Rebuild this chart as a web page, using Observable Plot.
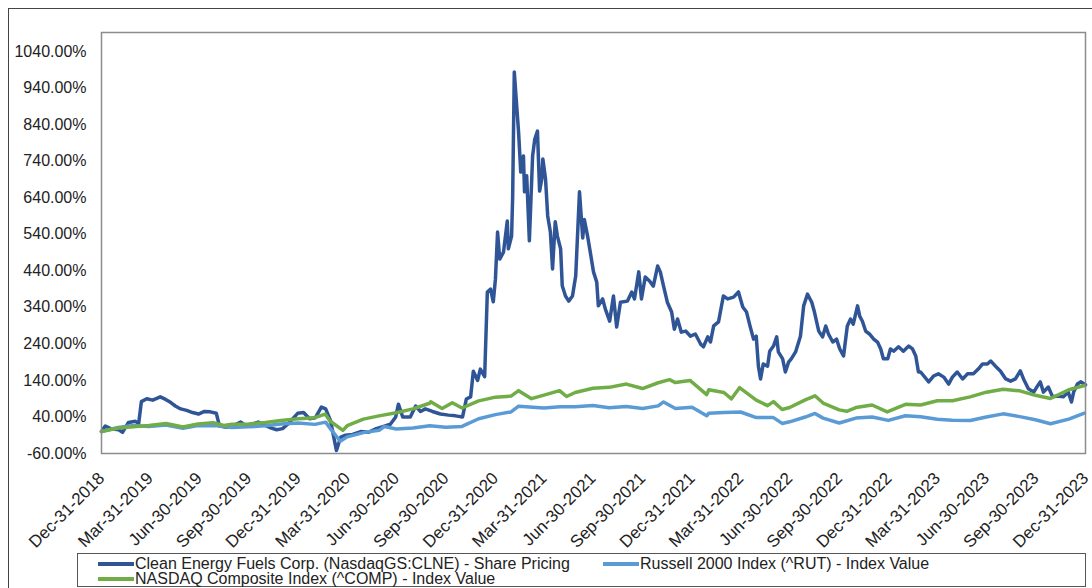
<!DOCTYPE html>
<html><head><meta charset="utf-8">
<script src="https://cdn.jsdelivr.net/npm/d3@7"></script>
<script src="https://cdn.jsdelivr.net/npm/@observablehq/plot@0.6"></script>
<style>
body{margin:0;background:#fff;font-family:"Liberation Sans",Arial,sans-serif;}
#wrap{position:relative;width:1092px;height:588px;overflow:hidden;background:#fff;}
#outer{position:absolute;left:8px;top:8px;width:1100px;height:600px;border:1px solid #444;}
#chart{position:absolute;left:0;top:0;}
#legend{position:absolute;left:77px;top:553px;width:1009px;height:34px;border:1px solid #555;box-sizing:border-box;font-size:16px;color:#222;}
.item{position:absolute;display:flex;align-items:center;height:16px;white-space:nowrap;}
.sw{width:36px;height:4px;margin-right:1px;}
</style></head><body>
<div id="wrap"><div id="outer"></div><div id="chart"></div><div id="legend"></div></div>
<script>
const seriesNames = [
  "Clean Energy Fuels Corp. (NasdaqGS:CLNE) - Share Pricing",
  "Russell 2000 Index (^RUT) - Index Value",
  "NASDAQ Composite Index (^COMP) - Index Value"
];
const seriesColors = ["#2f5597", "#5b9bd5", "#70ad47"];

const xTicks = ["2018-12-31","2019-03-31","2019-06-30","2019-09-30","2019-12-31","2020-03-31","2020-06-30","2020-09-30","2020-12-31","2021-03-31","2021-06-30","2021-09-30","2021-12-31","2022-03-31","2022-06-30","2022-09-30","2022-12-31","2023-03-31","2023-06-30","2023-09-30","2023-12-31"];
const yTicks = [-60,40,140,240,340,440,540,640,740,840,940,1040];

const clneDates = ["2018-12-31","2019-01-07","2019-01-17","2019-02-01","2019-02-08","2019-02-19","2019-03-04","2019-03-10","2019-03-15","2019-03-25","2019-04-05","2019-04-19","2019-04-29","2019-05-08","2019-05-17","2019-05-27","2019-06-07","2019-06-18","2019-06-29","2019-07-10","2019-07-21","2019-08-01","2019-08-07","2019-08-20","2019-09-04","2019-09-15","2019-09-26","2019-10-07","2019-10-18","2019-10-29","2019-11-10","2019-11-21","2019-12-02","2019-12-13","2019-12-30","2020-01-10","2020-01-21","2020-02-01","2020-02-12","2020-02-20","2020-02-29","2020-03-11","2020-03-19","2020-03-28","2020-04-10","2020-04-25","2020-05-09","2020-05-24","2020-06-08","2020-06-19","2020-06-29","2020-07-04","2020-07-12","2020-07-26","2020-08-05","2020-08-14","2020-08-23","2020-09-05","2020-09-20","2020-10-05","2020-10-18","2020-10-31","2020-11-07","2020-11-15","2020-11-20","2020-11-28","2020-12-03","2020-12-11","2020-12-16","2020-12-22","2020-12-27","2020-12-31","2021-01-04","2021-01-08","2021-01-15","2021-01-22","2021-01-24","2021-01-30","2021-02-01","2021-02-04","2021-02-08","2021-02-12","2021-02-16","2021-02-21","2021-02-23","2021-02-27","2021-03-04","2021-03-10","2021-03-14","2021-03-19","2021-03-23","2021-03-27","2021-03-29","2021-04-03","2021-04-07","2021-04-12","2021-04-16","2021-04-21","2021-04-25","2021-05-01","2021-05-04","2021-05-10","2021-05-16","2021-05-23","2021-05-29","2021-06-05","2021-06-11","2021-06-14","2021-06-20","2021-06-25","2021-07-01","2021-07-07","2021-07-10","2021-07-18","2021-07-23","2021-07-31","2021-08-07","2021-08-13","2021-08-20","2021-09-02","2021-09-10","2021-09-15","2021-09-23","2021-09-28","2021-10-05","2021-10-13","2021-10-20","2021-10-28","2021-11-02","2021-11-08","2021-11-15","2021-11-23","2021-11-28","2021-12-04","2021-12-11","2021-12-19","2021-12-28","2022-01-06","2022-01-16","2022-01-21","2022-01-29","2022-02-03","2022-02-09","2022-02-18","2022-02-27","2022-03-07","2022-03-18","2022-03-27","2022-04-04","2022-04-11","2022-04-18","2022-04-24","2022-04-29","2022-05-03","2022-05-07","2022-05-12","2022-05-20","2022-05-24","2022-05-31","2022-06-06","2022-06-09","2022-06-17","2022-06-22","2022-06-28","2022-07-03","2022-07-11","2022-07-20","2022-07-26","2022-08-02","2022-08-10","2022-08-15","2022-08-23","2022-08-30","2022-09-05","2022-09-10","2022-09-18","2022-09-25","2022-10-01","2022-10-08","2022-10-15","2022-10-21","2022-10-26","2022-11-03","2022-11-07","2022-11-12","2022-11-18","2022-11-25","2022-12-03","2022-12-10","2022-12-16","2022-12-21","2022-12-29","2023-01-03","2023-01-09","2023-01-18","2023-01-27","2023-02-06","2023-02-13","2023-02-19","2023-02-24","2023-02-28","2023-03-15","2023-03-24","2023-04-02","2023-04-12","2023-04-21","2023-04-28","2023-05-07","2023-05-17","2023-05-26","2023-06-06","2023-06-15","2023-06-23","2023-07-02","2023-07-08","2023-07-17","2023-07-26","2023-08-05","2023-08-14","2023-08-23","2023-09-01","2023-09-07","2023-09-16","2023-09-26","2023-10-03","2023-10-08","2023-10-14","2023-10-23","2023-10-31","2023-11-09","2023-11-20","2023-11-29","2023-12-05","2023-12-09","2023-12-16","2023-12-22","2023-12-31"];
const clneValues = [0,15,8,5,-2,25,28,22,82,90,86,95,88,80,70,62,58,52,48,55,54,50,15,12,18,26,15,20,26,18,10,5,8,22,50,52,35,38,67,62,30,-52,-15,-10,-8,0,-2,8,15,20,40,75,40,40,70,55,62,55,48,45,43,40,89,95,165,140,171,150,382,390,355,417,546,472,491,576,500,535,644,984,901,819,710,754,656,700,522,754,800,822,658,691,746,691,590,546,445,574,535,500,399,371,357,371,426,656,530,580,535,491,437,409,344,363,335,302,371,286,354,357,382,363,437,363,423,412,398,453,437,398,354,327,280,308,272,275,261,267,239,232,259,245,289,300,371,363,368,382,341,327,286,253,261,179,144,185,179,220,234,259,218,199,163,190,199,218,261,344,376,354,327,275,259,289,267,245,253,226,207,289,308,294,344,316,302,275,267,253,245,226,199,199,226,220,232,220,234,226,207,163,163,136,152,158,149,130,149,163,144,158,158,171,185,185,193,179,166,144,138,144,166,144,117,108,125,136,108,122,95,97,95,108,81,108,130,136,128];

const rutDates = ["2018-12-31","2019-01-31","2019-02-28","2019-03-29","2019-04-30","2019-05-31","2019-06-28","2019-07-31","2019-08-30","2019-09-30","2019-10-31","2019-11-29","2019-12-31","2020-01-31","2020-02-20","2020-02-28","2020-03-18","2020-03-31","2020-04-30","2020-05-29","2020-06-08","2020-06-30","2020-07-31","2020-08-31","2020-09-30","2020-10-30","2020-11-30","2020-12-31","2021-01-29","2021-02-12","2021-03-31","2021-04-30","2021-05-28","2021-06-30","2021-07-30","2021-08-31","2021-09-30","2021-10-29","2021-11-08","2021-11-30","2021-12-31","2022-01-27","2022-01-31","2022-02-28","2022-03-31","2022-04-29","2022-05-31","2022-06-16","2022-06-30","2022-07-29","2022-08-16","2022-08-31","2022-09-30","2022-10-31","2022-11-30","2022-12-30","2023-01-31","2023-02-28","2023-03-31","2023-04-28","2023-05-31","2023-06-30","2023-07-31","2023-08-31","2023-09-29","2023-10-27","2023-11-30","2023-12-29"];
const rutValues = [0,11.2,16.8,14.2,18,8.7,16.2,16.8,10.9,12.9,15.8,20.5,23.7,19.7,25.8,9.4,-26.5,-14.5,-2.9,3.4,13.9,6.9,9.8,15.8,11.8,14,35,46.4,53.8,69.4,64.7,68,68.2,71.4,65,68.6,63.4,70.3,81.1,63,66.5,43.2,50.4,51.9,53.5,38.2,38.2,22.3,26.7,39.8,49.6,36.8,23.5,36.9,39.9,30.6,43.3,40.6,33.6,31.1,30.4,40.1,48.5,40.9,32.4,21.3,34.2,50.3];

const compDates = ["2018-12-31","2019-01-31","2019-02-28","2019-03-29","2019-04-30","2019-05-31","2019-06-28","2019-07-26","2019-08-15","2019-08-30","2019-09-30","2019-10-31","2019-11-29","2019-12-31","2020-01-31","2020-02-19","2020-02-28","2020-03-23","2020-03-31","2020-04-30","2020-05-29","2020-06-30","2020-07-31","2020-08-31","2020-09-02","2020-09-23","2020-10-12","2020-10-30","2020-11-30","2020-12-31","2021-01-29","2021-02-12","2021-03-08","2021-03-31","2021-04-29","2021-05-12","2021-05-28","2021-06-30","2021-07-30","2021-08-31","2021-09-30","2021-10-29","2021-11-19","2021-11-30","2021-12-27","2022-01-27","2022-01-31","2022-02-28","2022-03-14","2022-03-29","2022-04-29","2022-05-20","2022-05-31","2022-06-16","2022-06-30","2022-07-29","2022-08-16","2022-08-31","2022-09-30","2022-10-14","2022-10-31","2022-11-30","2022-12-28","2023-01-31","2023-02-28","2023-03-31","2023-04-28","2023-05-31","2023-06-30","2023-07-31","2023-08-31","2023-09-29","2023-10-27","2023-11-30","2023-12-29"];
const compValues = [0,9.8,13.5,16.5,22,12.3,20.7,24.5,16.5,20,20.6,25,30.6,35.2,37.9,48,29,3.4,16,34,43,51.6,62,77.5,81.7,63,79,64.5,83.9,94.2,97,112,90,99.7,112,96,107,118.6,121,130,117.8,133.6,142,134,140,101,114.6,107,89.6,120,86,71,82,60.5,66,86.8,97.9,78,59.4,55.6,65.6,72.8,53.9,74.6,72.7,84.2,84.3,95,107.8,116,111.5,99.2,90.5,114.4,126.2];

const parse = d3.utcParse("%Y-%m-%d");
const rows = [];
function add(name, dates, vals) { dates.forEach((d, i) => rows.push({series: name, date: parse(d), value: vals[i]})); }
add(seriesNames[0], clneDates, clneValues);
add(seriesNames[1], rutDates, rutValues);
add(seriesNames[2], compDates, compValues);

const fmt = d3.utcFormat("%b-%d-%Y");
const font = '"Liberation Sans", Arial, sans-serif';

const chart = Plot.plot({
  width: 1092, height: 552,
  marginLeft: 101, marginRight: 7, marginTop: 32, marginBottom: 99,
  style: {fontFamily: font, fontSize: "16px", color: "#222", background: "transparent", overflow: "visible"},
  x: {type: "utc", domain: [parse(xTicks[0]), parse(xTicks[xTicks.length - 1])]},
  y: {domain: [-60, 1092]},
  color: {domain: seriesNames, range: seriesColors},
  marks: [
    Plot.axisY({ticks: yTicks, tickSize: 0, tickPadding: 15, tickFormat: d => d.toFixed(2) + "%", label: null, fontSize: 16}),
    Plot.axisX({ticks: xTicks.map(parse), tickSize: 0, tickPadding: 22, tickRotate: -45, tickFormat: fmt, label: null, fontSize: 17}),
    Plot.lineY(rows, {x: "date", y: "value", stroke: "series", z: "series", strokeWidth: 3.5, strokeLinejoin: "round"}),
    Plot.frame({stroke: "#8c8c8c", strokeWidth: 1.5})
  ]
});
document.getElementById("chart").appendChild(chart);

const legend = document.getElementById("legend");
const pos = [{l: 20, t: 2}, {l: 525, t: 2}, {l: 20, t: 17}];
seriesNames.forEach((name, i) => {
  const it = document.createElement("div");
  it.className = "item";
  it.style.left = pos[i].l + "px";
  it.style.top = pos[i].t + "px";
  const sw = document.createElement("div");
  sw.className = "sw";
  sw.style.background = seriesColors[i];
  const tx = document.createElement("span");
  tx.textContent = name;
  it.appendChild(sw); it.appendChild(tx);
  legend.appendChild(it);
});
</script>
</body></html>
